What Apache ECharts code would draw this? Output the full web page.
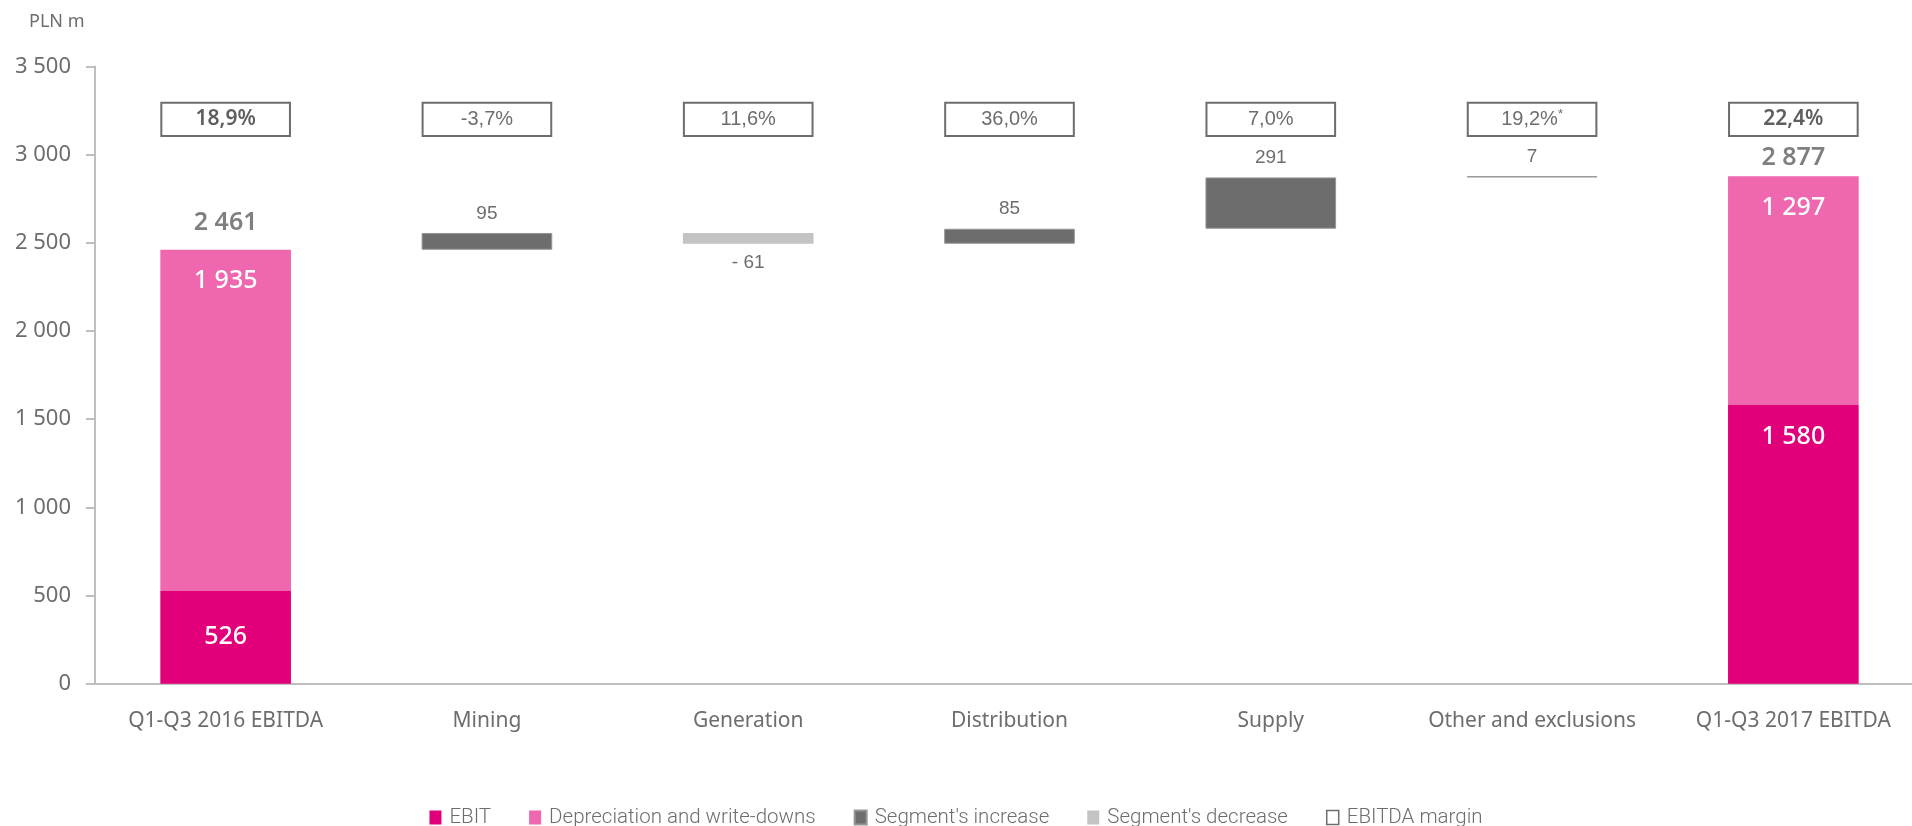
<!DOCTYPE html>
<html>
<head>
<meta charset="utf-8">
<script src="https://cdn.jsdelivr.net/npm/echarts@6/dist/echarts.min.js"></script>
<style>
  html, body { margin: 0; padding: 0; background: #ffffff; }
  #chart { width: 1912px; height: 826px; }
</style>
</head>
<body>
<div id="chart"></div>
<script>
// ---------- data ----------
const categories = ['Q1-Q3 2016 EBITDA', 'Mining', 'Generation', 'Distribution', 'Supply', 'Other and exclusions', 'Q1-Q3 2017 EBITDA'];
const ebit = [526, null, null, null, null, null, 1580];
const depreciation = [1935, null, null, null, null, null, 1297];
const segmentChange = [null, 95, -61, 85, 291, 7, null];
const margins = ['18,9%', '-3,7%', '11,6%', '36,0%', '7,0%', '19,2%', '22,4%'];
const marginNotes = ['', '', '', '', '', '*', ''];
const yMin = 0, yMax = 3500, yStep = 500;

// ---------- layout constants (not data) ----------
const BOX_FROM = 3100, BOX_TO = 3300;
const GREY = '#6d6d6d';
const FONT = '"Noto Sans", "Open Sans", sans-serif';
const NARROW = '"Roboto", "Liberation Sans", sans-serif';
const ARIAL = '"Liberation Sans", Arial, sans-serif';

const fmt = v => String(v).replace(/\B(?=(\d{3})+(?!\d))/g, ' ');

// ---------- derive waterfall pieces ----------
const base = [], inc = [], dec = [], totals = [];
let running = 0;
categories.forEach((c, i) => {
  if (ebit[i] != null) {
    const t = ebit[i] + depreciation[i];
    totals.push(t); running = t;
    base.push('-'); inc.push('-'); dec.push('-');
  } else {
    const v = segmentChange[i];
    totals.push('-');
    if (v >= 0) { base.push(running); inc.push(v); dec.push('-'); running += v; }
    else { running += v; base.push(running); inc.push('-'); dec.push(-v); }
  }
});

const chart = echarts.init(document.getElementById('chart'), null, { renderer: 'canvas' });

const totalData = totals.map((t, i) => t === '-' ? '-' : {
  value: t,
  label: { distance: i === 0 ? 14 : 5 }
});

const ebitData = ebit.map((v, i) => v == null ? '-' : {
  value: v,
  label: i === 0 ? { position: 'inside' } : { position: 'insideTop', distance: 19 }
});

const last = categories.length - 1;
const marginData = margins.map((m, i) => ({
  value: BOX_TO - BOX_FROM,
  label: {
    formatter: marginNotes[i] ? '{a|' + m + '}{s|' + marginNotes[i] + '}' : '{a|' + m + '}',
    rich: {
      a: (i === 0 || i === last)
        ? { fontSize: 21, color: '#5f5f5f', fontFamily: FONT, fontWeight: 600 }
        : { fontSize: 20, color: GREY, fontFamily: ARIAL, fontWeight: 'normal' },
      s: { fontSize: 13, color: GREY, fontFamily: ARIAL, verticalAlign: 'top', padding: [0, 0, 10, 0] }
    }
  }
}));

const barCommon = { type: 'bar', barWidth: '50%', barGap: '-100%', animation: false };

chart.setOption({
  animation: false,
  title: {
    text: 'PLN m', left: 24, top: 8,
    textStyle: { fontFamily: FONT, fontSize: 18, fontWeight: 'normal', color: GREY }
  },
  grid: { left: 95, top: 66.5, width: 1829, height: 617.2, containLabel: false, outerBoundsMode: 'none' },
  legend: {
    top: 802, left: 'center',
    itemWidth: 12, itemHeight: 14, itemGap: 38,
    textStyle: { fontFamily: NARROW, fontSize: 20.5, color: GREY, fontWeight: 300, padding: [0, 0, 0, 3] },
    data: [
      { name: 'EBIT', icon: 'rect' },
      { name: 'Depreciation and write-downs', icon: 'rect' },
      { name: "Segment's increase", icon: 'rect' },
      { name: "Segment's decrease", icon: 'rect' },
      { name: 'EBITDA margin', icon: 'rect', itemStyle: { color: '#ffffff', borderColor: GREY, borderWidth: 1.5 } }
    ],
    selectedMode: false
  },
  xAxis: {
    type: 'category', data: categories,
    axisLine: { lineStyle: { color: '#bfbfbf', width: 2 } },
    axisTick: { show: false },
    axisLabel: { fontFamily: FONT, fontSize: 21, color: GREY, margin: 27, interval: 0 }
  },
  yAxis: {
    type: 'value', min: yMin, max: yMax, interval: yStep,
    axisLine: { show: true, lineStyle: { color: '#bfbfbf', width: 2 } },
    axisTick: { show: true, length: 9, lineStyle: { color: '#bfbfbf', width: 2 } },
    splitLine: { show: false },
    axisLabel: { fontFamily: FONT, fontSize: 22, color: GREY, margin: 24, formatter: v => fmt(v) }
  },
  series: [
    { ...barCommon, name: 'base', stack: 'wf', data: base, itemStyle: { color: 'transparent' }, silent: true },
    { ...barCommon, name: 'EBIT', stack: 'wf', data: ebitData,
      itemStyle: { color: '#e2007a' },
      label: { show: true, color: '#ffffff', fontFamily: FONT, fontSize: 25, fontWeight: 500, formatter: p => fmt(p.value) } },
    { ...barCommon, name: 'Depreciation and write-downs', stack: 'wf', data: depreciation.map(v => v == null ? '-' : v),
      itemStyle: { color: '#ee67af' },
      label: { show: true, position: 'insideTop', distance: 19, color: '#ffffff', fontFamily: FONT, fontSize: 25, fontWeight: 500, formatter: p => fmt(p.value) } },
    { ...barCommon, name: "Segment's increase", stack: 'wf', data: inc,
      itemStyle: { color: '#6d6d6d', borderColor: '#959595', borderWidth: 1 },
      label: { show: true, position: 'top', distance: 10, color: GREY, fontFamily: ARIAL, fontSize: 19, formatter: p => fmt(p.value) } },
    { ...barCommon, name: "Segment's decrease", stack: 'wf', data: dec,
      itemStyle: { color: '#c3c3c3' },
      label: { show: true, position: 'bottom', distance: 10, color: GREY, fontFamily: ARIAL, fontSize: 19, formatter: p => '- ' + fmt(p.value) } },
    { ...barCommon, name: 'mbase', stack: 'm', data: categories.map(() => BOX_FROM), itemStyle: { color: 'transparent' }, silent: true },
    { ...barCommon, name: 'EBITDA margin', stack: 'm', data: marginData,
      itemStyle: { color: '#ffffff', borderColor: GREY, borderWidth: 2 },
      label: { show: true, position: 'inside' } },
    { type: 'scatter', name: 'total', data: totalData, symbolSize: 1, itemStyle: { color: 'transparent' },
      label: { show: true, position: 'top', color: '#5f5f5f', fontFamily: FONT, fontSize: 25, fontWeight: 600, formatter: p => fmt(p.value) },
      silent: true, z: 5 }
  ]
});
</script>
</body>
</html>
